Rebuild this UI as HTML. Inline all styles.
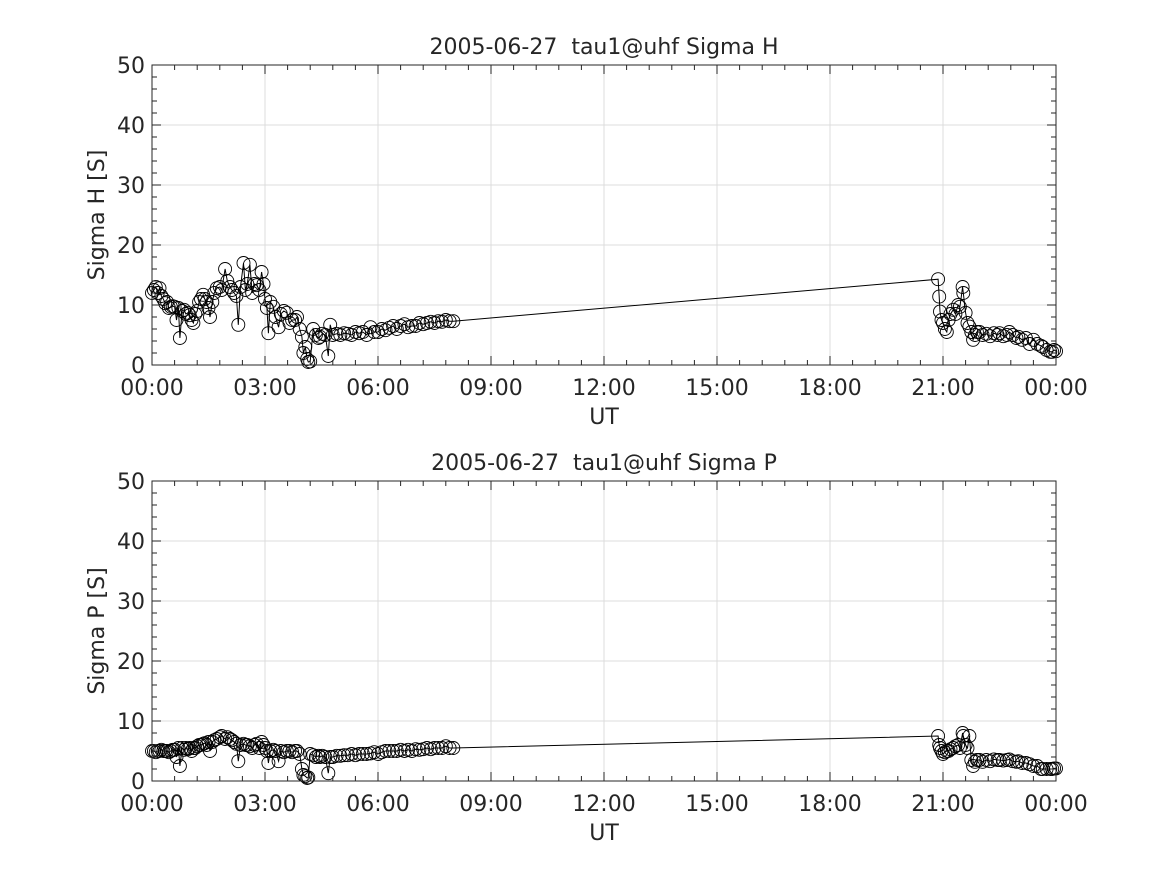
<!DOCTYPE html>
<html><head><meta charset="utf-8"><style>
html,body{margin:0;padding:0;background:#fff;}
svg text{font-family:"DejaVu Sans","Liberation Sans",sans-serif;fill:#262626;white-space:pre;}
</style></head><body>
<svg id="fig" width="1167" height="875" viewBox="0 0 1167 875" xmlns="http://www.w3.org/2000/svg"></svg>
<script>
// Sigma H data (hours UT, Siemens)
const hTimes = [0.0,0.05,0.1,0.15,0.2,0.25,0.3,0.35,0.4,0.45,0.5,0.55,0.6,0.65,0.7,0.74,0.8,0.85,0.9,0.95,1.0,1.05,1.1,1.15,1.2,1.25,1.3,1.36,1.4,1.45,1.5,1.54,1.6,1.65,1.72,1.8,1.85,1.94,2.0,2.07,2.12,2.18,2.24,2.29,2.35,2.43,2.48,2.53,2.6,2.66,2.72,2.78,2.85,2.91,2.96,3.0,3.05,3.09,3.14,3.22,3.28,3.36,3.42,3.5,3.58,3.65,3.72,3.8,3.85,3.92,3.98,4.02,4.07,4.12,4.15,4.2,4.28,4.35,4.42,4.46,4.52,4.6,4.68,4.73,4.8,4.9,5.0,5.1,5.2,5.3,5.4,5.5,5.6,5.7,5.8,5.9,6.0,6.1,6.2,6.3,6.4,6.5,6.6,6.7,6.8,6.9,7.0,7.1,7.2,7.3,7.4,7.5,7.6,7.7,7.8,7.9,8.0,
20.87,20.9,20.92,20.96,21.0,21.05,21.1,21.15,21.2,21.27,21.33,21.4,21.45,21.52,21.54,21.6,21.65,21.7,21.75,21.8,21.85,21.9,21.97,22.05,22.15,22.25,22.35,22.45,22.5,22.6,22.7,22.76,22.85,22.95,23.0,23.1,23.2,23.3,23.4,23.5,23.6,23.65,23.75,23.85,23.9,23.95,24.0];
const hValues = [12,12.5,13,12,12.8,11.5,11,10.3,10.5,9.5,9.7,9.8,9.7,7.5,9.5,4.5,9,9.2,8.5,8.7,8.3,7.5,7,8.5,9,10.5,11,11.7,11,10.5,9.5,8,10.5,12,12.8,13,12.5,16,14,13,12.5,12,11.5,6.7,13,17,12.5,13.5,16.7,12,13.5,13.3,12.5,15.5,13.5,11,9.5,5.3,10.5,9.7,8,6.3,8.5,9,8.7,7,7.5,7.5,8,6,4.7,2,3,1,0.5,0.6,6,5,4.5,4.7,5.2,5,1.5,6.7,5,5.2,5,5.3,5.2,5,5.5,5.3,5.5,5,6.3,5.5,5.5,6,5.8,6.2,6.5,6,6.5,6.8,6.3,6.5,6.5,7,6.8,7,7.2,7,7.3,7.2,7.5,7.3,7.3,
14.3,11.4,8.9,7.5,7,6,5.5,7.5,8.5,9.2,8.5,10,9.7,13,12,8.7,7,6.4,5.5,4.2,5,5.5,5.5,5,5.2,4.8,5.3,5,5.3,4.8,5,5.5,5,4.5,4.7,4.2,4.5,3.5,4.2,3.5,3.2,3,2.5,2.2,2.2,2.5,2.3];
// Sigma P data
const pTimes = hTimes;
const pValues = [5,5,4.8,5,5,5.2,5,5,5,4.8,5,5.2,5.2,4,5.5,2.5,5.5,5.2,5.5,5.3,5.5,5,5.5,5.5,5.8,6,6,6.2,6.3,6,6.5,5,6.5,6.8,7,7.3,7.5,7,7.3,7,6.8,6.5,6.2,3.3,6,6.2,6,6,5.8,5.5,6,6.2,5.5,6.5,6,5.5,5,3,5,5.2,5,3.3,5,4.8,5,5,4.8,5,5,4.5,2,1,0.8,0.5,0.6,4.5,4.3,4,4.2,4,4.2,4,1.3,4,4,4.2,4.2,4.3,4.3,4.5,4.3,4.5,4.5,4.5,4.6,4.8,4.5,4.8,5,5,5,5,5.2,5,5.2,5,5.3,5.2,5.3,5.5,5.3,5.5,5.5,5.5,5.8,5.5,5.5,
7.5,6,5.5,5,4.5,4.8,5,5,5.3,5.5,5.8,6,5.5,8,7.5,6,5.5,7.5,3.5,2.5,3.2,3.5,3.5,3.2,3.5,3.3,3.6,3.5,3.5,3.4,3.5,3.6,3.3,3.2,3.3,3,3,2.8,2.5,2.5,2,2,2,2,2,2.1,2.1];
const xTickLabels = ["00:00","03:00","06:00","09:00","12:00","15:00","18:00","21:00","00:00"];
const yTickLabels = ["0","10","20","30","40","50"];

const NS="http://www.w3.org/2000/svg";
const svg=document.getElementById('fig');
function mk(tag,attrs,parent){const e=document.createElementNS(NS,tag);for(const k in attrs)e.setAttribute(k,attrs[k]);(parent||svg).appendChild(e);return e;}
const FS=22;
function drawAxes(top,title,ylabel,times,values,prefix){
  const L=152,R=1056,T=top,B=top+300;
  const g=mk('g',{});
  
  
  const xs=h=>L+(R-L)*h/24;
  const ys=v=>B-(B-T)*v/50;
  mk('rect',{x:L,y:T,width:R-L,height:B-T,fill:'#fff'},g);
  for(let i=0;i<xTickLabels.length;i++){const x=xs(i*3);mk('line',{x1:x,x2:x,y1:T,y2:B,stroke:'#dcdcdc','stroke-width':1},g);}
  for(let i=0;i<yTickLabels.length;i++){const y=ys(i*10);mk('line',{x1:L,x2:R,y1:y,y2:y,stroke:'#dcdcdc','stroke-width':1},g);}
  let d='';
  for(let i=0;i<times.length;i++){d+=(i?'L':'M')+xs(times[i]).toFixed(1)+','+ys(values[i]).toFixed(1);}
  const ln=mk('path',{d:d,fill:'none',stroke:'#000','stroke-width':1},g);
  
  
  for(let i=0;i<times.length;i++){
    const c=mk('circle',{cx:xs(times[i]).toFixed(1),cy:ys(values[i]).toFixed(1),r:6.5,fill:'none',stroke:'#000','stroke-width':0.9},g);
    
    
  }
  mk('rect',{x:L,y:T,width:R-L,height:B-T,fill:'none',stroke:'#262626','stroke-width':1},g);
  for(let m=0;m<=40;m++){const x=xs(m*0.6);const len=(m%5===0)?9:5;
    mk('line',{x1:x,x2:x,y1:B,y2:B-len,stroke:'#262626'},g);mk('line',{x1:x,x2:x,y1:T,y2:T+len,stroke:'#262626'},g);}
  for(let i=0;i<xTickLabels.length;i++){
    const t=mk('text',{x:xs(i*3),y:B+30,'text-anchor':'middle','font-size':FS},g);t.textContent=xTickLabels[i];
    }
  for(let m=0;m<=25;m++){const y=ys(m*2);const len=(m%5===0)?9:5;
    mk('line',{x1:L,x2:L+len,y1:y,y2:y,stroke:'#262626'},g);mk('line',{x1:R,x2:R-len,y1:y,y2:y,stroke:'#262626'},g);}
  for(let i=0;i<yTickLabels.length;i++){
    const t=mk('text',{x:L-7,y:ys(i*10)+8,'text-anchor':'end','font-size':FS},g);t.textContent=yTickLabels[i];
    }
  const tt=mk('text',{x:(L+R)/2,y:T-11,'text-anchor':'middle','font-size':FS},g);tt.textContent=title;
  
  const xl=mk('text',{x:(L+R)/2,y:B+59,'text-anchor':'middle','font-size':FS},g);xl.textContent='UT';
  
  const yl=mk('text',{x:0,y:0,'text-anchor':'middle','font-size':FS,transform:`translate(104,${(T+B)/2}) rotate(-90)`},g);yl.textContent=ylabel;
  
}
drawAxes(65,'2005-06-27  tau1@uhf Sigma H','Sigma H [S]',hTimes,hValues,'sigma-h');
drawAxes(481,'2005-06-27  tau1@uhf Sigma P','Sigma P [S]',pTimes,pValues,'sigma-p');
</script>
</body></html>
